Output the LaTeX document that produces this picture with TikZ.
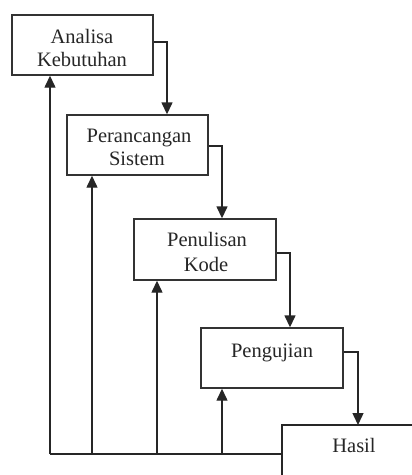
\documentclass[tikz,border=0pt]{standalone}
\usepackage{fontspec}
\setmainfont{Liberation Serif}
\usetikzlibrary{arrows.meta}
\begin{document}
\begin{tikzpicture}[x=1pt,y=-1pt,
  box/.style={draw=black!80,line width=1.4pt,rectangle,inner sep=0pt,minimum width=141pt,minimum height=60pt},
  lbl/.style={anchor=base,inner sep=0pt,font=\fontsize{20.5}{23}\selectfont,text=black!85},
  ln/.style={draw=black!85,line width=1.4pt},
  arr/.style={ln,-{Triangle[width=11pt,length=12pt]}}]
\useasboundingbox (0,0) rectangle (412,475);
% boxes
\node[box] (b1) at (82.5,45) {};
\node[box] (b2) at (137.5,145) {};
\node[box,minimum width=142pt,minimum height=61pt] (b3) at (205,249.5) {};
\node[box,minimum width=142pt] (b4) at (272,358) {};
\coordinate (h) at (282,425);
\coordinate (hb) at (282,475);
\coordinate (hr) at (412,425);
\draw[ln] (hb) -- (h) -- (hr);
% labels
\node[lbl] (t1a) at (82,43) {Analisa};
\node[lbl] (t1b) at (82,66) {Kebutuhan};
\node[lbl] (t2a) at (139,142) {Perancangan};
\node[lbl] (t2b) at (137,165) {Sistem};
\node[lbl] (t3a) at (207,246) {Penulisan};
\node[lbl] (t3b) at (206,271) {Kode};
\node[lbl] (t4) at (272,357) {Pengujian};
\node[lbl] (t5) at (354,452) {Hasil};
% forward arrows
\draw[arr] ([yshift=3pt]b1.east) -| ([xshift=29.5pt]b2.north);
\draw[arr] ([yshift=-1pt]b2.east) -| ([xshift=17pt]b3.north);
\draw[arr] ([yshift=-3.5pt]b3.east) -| ([xshift=18pt]b4.north);
\coordinate (h4) at (358,425);
\draw[arr] ([yshift=6pt]b4.east) -| (h4);
% feedback
\coordinate (fb) at (282,454);
\coordinate (f1) at (50,454);
\coordinate (f2) at (92,454);
\coordinate (f3) at (157,454);
\coordinate (f4) at (222,454);
\draw[ln] (fb) -- (f1);
\draw[arr] (f1) -- (f1 |- b1.south);
\draw[arr] (f2) -- (f2 |- b2.south);
\draw[arr] (f3) -- (f3 |- b3.south);
\draw[arr] (f4) -- (f4 |- b4.south);
\end{tikzpicture}
\end{document}
